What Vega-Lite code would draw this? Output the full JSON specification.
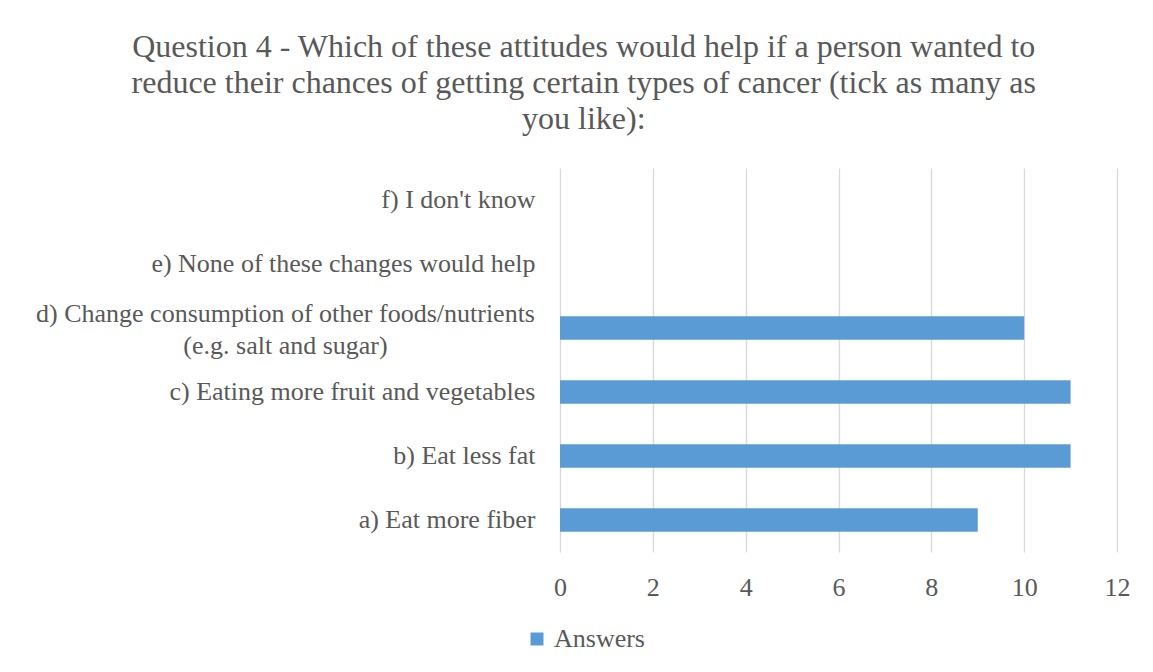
{
  "$schema": "https://vega.github.io/schema/vega-lite/v6.json",
  "width": 557,
  "height": 384,
  "autosize": "none",
  "padding": {"left": 560, "top": 168, "right": 36, "bottom": 120},
  "background": "white",
  "title": {
    "text": ["Question 4 - Which of these attitudes would help if a person wanted to", "reduce their chances of getting certain types of cancer (tick as many as", "you like):"],
    "font": "Liberation Serif",
    "fontSize": 32,
    "fontWeight": "normal",
    "color": "#595959",
    "lineHeight": 36,
    "anchor": "middle",
    "frame": "bounds",
    "offset": 32,
    "dx": 1
  },
  "data": {
    "values": [
      {"option": "a) Eat more fiber", "answers": 9},
      {"option": "b) Eat less fat", "answers": 11},
      {"option": "c) Eating more fruit and vegetables", "answers": 11},
      {"option": "d) Change consumption of other foods/nutrients (e.g. salt and sugar)", "answers": 10},
      {"option": "e) None of these changes would help", "answers": 0},
      {"option": "f) I don't know", "answers": 0}
    ]
  },
  "mark": {"type": "bar", "color": "#5b9bd5"},
  "encoding": {
    "y": {
      "field": "option",
      "type": "nominal",
      "sort": "descending",
      "title": null,
      "scale": {"paddingInner": 0.63, "paddingOuter": 0.315},
      "axis": {
        "domain": false,
        "ticks": false,
        "labelFont": "Liberation Serif",
        "labelFontSize": 26,
        "labelColor": "#595959",
        "labelPadding": {"condition": {"test": "indexof(datum.value, 'd)') == 0", "value": 275}, "value": 25},
        "labelAlign": {"condition": {"test": "indexof(datum.value, 'd)') == 0", "value": "center"}, "value": "right"},
        "labelOffset": {"condition": {"test": "indexof(datum.value, 'd)') == 0", "value": -14}, "value": 0},
        "labelLimit": 800,
        "labelLineHeight": 32,
        "labelExpr": "indexof(datum.label, 'd)') == 0 ? ['d) Change consumption of other foods/nutrients', '(e.g. salt and sugar)'] : datum.label"
      }
    },
    "x": {
      "field": "answers",
      "type": "quantitative",
      "title": null,
      "scale": {"domain": [0, 12]},
      "axis": {
        "values": [0, 2, 4, 6, 8, 10, 12],
        "domain": false,
        "ticks": false,
        "labelFlush": false,
        "gridColor": "#d9d9d9",
        "gridWidth": 1.3,
        "labelFont": "Liberation Serif",
        "labelFontSize": 26,
        "labelColor": "#595959",
        "labelPadding": 22
      }
    },
    "color": {
      "datum": "Answers",
      "type": "nominal",
      "scale": {"range": ["#5b9bd5"]},
      "legend": {
        "title": null,
        "orient": "none",
        "legendX": -36,
        "legendY": 458,
        "padding": 0,
        "symbolType": "square",
        "symbolSize": 169,
        "symbolStrokeWidth": 0,
        "symbolOffset": 0,
        "labelOffset": 4,
        "labelFont": "Liberation Serif",
        "labelFontSize": 26,
        "labelColor": "#595959"
      }
    }
  },
  "config": {"view": {"stroke": null}}
}
